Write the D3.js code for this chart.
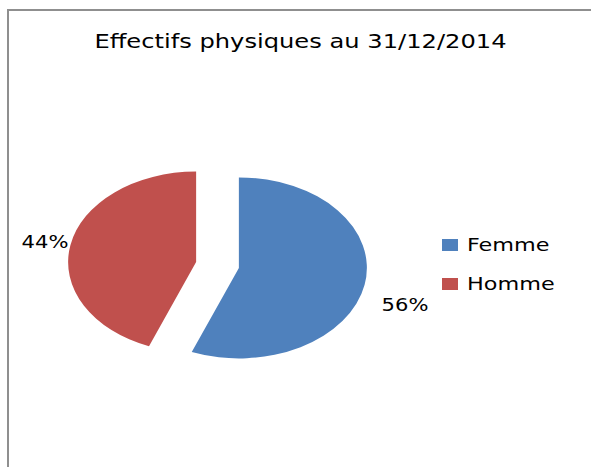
<!DOCTYPE html>
<html>
<head>
<meta charset="utf-8">
<script src="https://cdn.jsdelivr.net/npm/d3@7"></script>
<style>
  body { margin: 0; background: #fff; }
  text { font-family: "DejaVu Sans", sans-serif; fill: #000; }
</style>
</head>
<body>
<svg id="chart" width="591" height="467"></svg>
<script>
// chart data
const title = "Effectifs physiques au 31/12/2014";
const categories = ["Femme", "Homme"];
const values = [56, 44];
const colours = ["#4F81BD", "#C0504D"];

const svg = d3.select("#chart");
const stretch = 1.24; // reference font is drawn wide

// put a horizontally stretched text at (x, y)
function wideText(parent, x, y, str, size, anchor) {
    return parent.append("g")
        .attr("transform", "translate(" + x + "," + y + ") scale(" + stretch + ",1)")
        .append("text")
        .attr("text-anchor", anchor || "start")
        .style("font-size", size + "px")
        .text(str);
}

// frame (only top + left edges visible)
svg.append("rect")
    .attr("x", 8).attr("y", 10)
    .attr("width", 700).attr("height", 600)
    .attr("fill", "none")
    .attr("stroke", "#8f8f8f")
    .attr("stroke-width", 2);

wideText(svg, 300.5, 48, title, 19.5, "middle");

// pie is an ellipse: unit circle scaled by rx, ry
const cx = 217.5, cy = 265, rx = 128, ry = 90.5;
const explode = 0.17;
const R = 100;

const pie = d3.pie().sort(null).value(d => d.value);
const arc = d3.arc().innerRadius(0).outerRadius(R);
const data = categories.map((c, i) => ({ name: c, value: values[i], color: colours[i] }));
const arcs = pie(data);

const total = d3.sum(values);
const pieG = svg.append("g")
    .attr("transform", "translate(" + cx + "," + cy + ") scale(" + (rx / R) + "," + (ry / R) + ")");

pieG.selectAll("path")
    .data(arcs)
    .enter().append("path")
    .attr("d", arc)
    .attr("fill", d => d.data.color)
    .attr("transform", d => {
        const a = (d.startAngle + d.endAngle) / 2;
        return "translate(" + (Math.sin(a) * R * explode) + "," + (-Math.cos(a) * R * explode) + ")";
    });

// percentage labels, outside the exploded slices
arcs.forEach(d => {
    const a = (d.startAngle + d.endAngle) / 2;
    const sx = Math.sin(a), sy = -Math.cos(a);
    const ex = cx + sx * rx * (1 + explode);
    const ey = cy + sy * ry * (1 + explode);
    const right = sx > 0;
    wideText(svg,
        right ? ex + 17 : ex - 2,
        right ? ey + 26 : ey + 3,
        Math.round(d.data.value / total * 100) + "%", 17,
        right ? "start" : "end");
});

// legend
const legend = svg.append("g").attr("transform", "translate(442,239)");
data.forEach((d, i) => {
    const row = legend.append("g").attr("transform", "translate(0," + (i * 39) + ")");
    row.append("rect")
        .attr("width", 16).attr("height", 12)
        .attr("fill", d.color);
    wideText(row, 25, 12, d.name, 18);
});
</script>
</body>
</html>
